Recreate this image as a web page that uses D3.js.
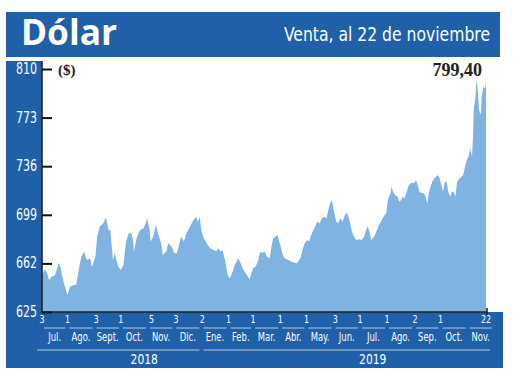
<!DOCTYPE html>
<html><head><meta charset="utf-8">
<script src="https://cdn.jsdelivr.net/npm/d3@7"></script>
<style>body{margin:0;background:#fff}</style>
</head><body><svg id="c" width="520" height="390"></svg>
<script>
const title = "Dólar";
const subtitle = "Venta, al 22 de noviembre";
const unitLabel = "($)";
const lastLabel = "799,40";
const startDate = "2018-07-03";
const endDate = "2019-11-22";
// days since 2018-07-03 of each sampled quote
const dayOffsets = [0,3,6,8,11,15,19,21,24,29,
32,36,39,43,45,48,51,55,57,61,
63,66,70,73,76,78,81,83,87,90,
93,96,99,102,104,105,108,112,116,119,
120,123,124,127,130,133,136,138,142,144,
148,151,154,157,159,162,165,169,173,176,
178,180,182,184,188,192,196,199,201,204,
206,209,212,214,217,220,224,227,230,234,
237,241,244,247,249,251,254,257,260,262,
264,267,269,272,275,277,281,285,289,291,
295,298,300,303,305,307,309,312,314,317,
319,322,325,327,329,331,333,336,338,341,
343,346,348,350,352,354,356,359,362,365,
368,370,372,374,376,378,381,384,387,390,
393,395,398,399,401,403,406,408,410,412,
414,417,419,422,425,427,429,431,434,436,
438,440,442,445,447,450,452,454,456,458,
460,462,464,466,468,470,472,474,477,479,
481,483,485,487,489,491,492,493,495,496,
498,499,501,502,504,506,507];
const values = [653,657.5,654.5,649.4,651.9,653.2,662.5,659.6,649.4,638,
644.3,645.6,645.6,660.8,667.1,671,664.6,665.9,659,667.1,
682.4,690,692.5,697.1,687.4,687.4,664.6,669.7,659.6,657,
660.8,678.6,685,685,679.8,671,681.1,687.4,688.7,693.8,
696.3,687.4,678.6,682.4,691.2,683.6,677.3,668.4,671,677.3,
674.8,669.7,669.7,677.3,682.4,678.6,684.9,690,695,697.6,
693.8,697.6,687.4,682.4,677.3,673.5,672.2,671,673.5,671,
672.2,664.6,653.2,650.6,654.5,660.8,665.9,662,657,653.2,
649.9,658.3,659.6,664.6,671,669.7,671,667.1,665.9,674.8,
681.1,682.4,683.6,676,668.4,665.9,664.6,663.3,662.5,662,
665.9,673.5,677.3,679.8,678.6,683,686.1,690,693.8,692.5,
695.6,697.6,696.3,702.7,707.8,710.3,702.7,693.8,692.5,696.3,
693.8,698.9,700.6,697.6,692.5,686.1,682.4,679.8,680.3,679.8,
682.4,687.4,690,686.1,679.8,681.1,684.9,690,693.8,697.6,
700.1,710.3,715.4,720.4,716.6,714.1,712.8,709,710.3,712.8,
711.6,717.9,721.7,723.4,723,725.5,721.7,716.6,715.4,715.4,
712.8,707.8,716.6,723,726,728,729.3,726.8,721.7,716.6,
724.2,724.2,716.6,712.8,716.6,716.6,712.8,724.2,726.8,728,
729.3,735.6,740.7,743.2,749.6,743.2,756,778.8,788.9,802,
791.5,778.8,775,788.9,796.5,795.3,799.4];
const tickDates = ["2018-07-03","2018-08-01","2018-09-03","2018-10-01","2018-11-05","2018-12-03",
"2019-01-02","2019-02-01","2019-03-01","2019-04-01","2019-05-01","2019-06-03","2019-07-01",
"2019-08-01","2019-09-02","2019-10-01","2019-11-22"];
const monthNames = ["Jul.","Ago.","Sept.","Oct.","Nov.","Dic.","Ene.","Feb.","Mar.","Abr.","May.","Jun.","Jul.","Ago.","Sep.","Oct.","Nov."];
const years = ["2018","2019"];
const yTicks = [625,662,699,736,773,810];

const blue = "#1f60a8", fill = "#7fb4e2", lineC = "#b3cbe8";
const narrow = "'Liberation Sans Narrow','DejaVu Sans Condensed','Open Sans',sans-serif";
const parse = d3.utcParse("%Y-%m-%d");
const t0 = parse(startDate), t1 = parse(endDate);
const L = 42, R = 486, T = 69, B = 312;
const x = d3.scaleUtc().domain([t0, t1]).range([L, R]);
const y = d3.scaleLinear().domain([625, 810]).range([B, T]);
const data = dayOffsets.map((o, i) => ({date: d3.utcDay.offset(t0, o), v: values[i]}));

const svg = d3.select("#c");
// narrow text helper: squeeze horizontally around anchor point
function sq(sel, fx, fy, s) {
  return sel.attr("x", 0).attr("y", 0)
    .attr("transform", (d, i) => `translate(${fx(d, i)},${fy(d, i)}) scale(${s},1)`);
}
// header
svg.append("rect").attr("x",6).attr("y",12).attr("width",494).attr("height",45).attr("fill",blue);
svg.append("text").attr("x",21).attr("y",45).attr("fill","#fff")
  .attr("font-family","'Open Sans',sans-serif").attr("font-weight",700).attr("font-size",35)
  .attr("textLength",96).attr("lengthAdjust","spacingAndGlyphs").text(title);
svg.append("text").attr("x",490).attr("y",41).attr("text-anchor","end").attr("fill","#fff")
  .attr("font-family","'DejaVu Sans Condensed',sans-serif").attr("font-size",20)
  .attr("textLength",206).attr("lengthAdjust","spacingAndGlyphs").text(subtitle);
// left strip and bottom band
svg.append("rect").attr("x",6).attr("y",61).attr("width",L-6).attr("height",B-61).attr("fill",blue);
svg.append("rect").attr("x",6).attr("y",B).attr("width",497).attr("height",56).attr("fill",blue);

// area
const area = d3.area().x(d => x(d.date)).y0(B).y1(d => y(d.v));
svg.append("path").datum(data).attr("d", area).attr("fill", fill);

// axes lines
svg.append("line").attr("x1",L).attr("x2",L).attr("y1",61).attr("y2",B+1).attr("stroke","#222").attr("stroke-width",1.6);
svg.append("line").attr("x1",L).attr("x2",R+1).attr("y1",B).attr("y2",B).attr("stroke","#222").attr("stroke-width",1.6);
svg.append("line").attr("x1",R+1).attr("x2",R+1).attr("y1",B-4).attr("y2",B+4).attr("stroke","#222").attr("stroke-width",1.6);

// y axis
const yAxis = d3.axisRight(y).tickValues(yTicks).tickSize(10).tickFormat("");
const gy = svg.append("g").attr("transform",`translate(${L},0)`).call(yAxis);
gy.select(".domain").remove();
gy.selectAll(".tick line").attr("stroke","#111").attr("stroke-width",2);
sq(svg.selectAll(".ylab").data(yTicks).join("text").attr("class","ylab"), () => 37, d => y(d) + 5, 0.82)
  .attr("text-anchor","end")
  .attr("fill","#fff").attr("font-family",narrow).attr("font-size",15).text(d => d);

svg.append("text").attr("x",58).attr("y",75).attr("font-family","'Liberation Serif',serif")
  .attr("font-weight",700).attr("font-size",15).attr("fill","#222").text(unitLabel);
svg.append("text").attr("x",482).attr("y",76).attr("text-anchor","end").attr("font-family","'Liberation Serif',serif")
  .attr("font-weight",700).attr("font-size",18).attr("fill","#222").text(lastLabel);

// x axis day labels
const fmtDay = d3.utcFormat("%-d");
sq(svg.selectAll(".dlab").data(tickDates).join("text").attr("class","dlab"), d => x(parse(d)), () => 323, 0.8)
  .attr("text-anchor","middle")
  .attr("fill","#fff").attr("font-family",narrow).attr("font-size",11).text(d => fmtDay(parse(d)));

// month segments & labels
const months = monthNames.map((m, i) => {
  const s = d3.utcMonth.offset(d3.utcMonth.floor(t0), i);
  const e = d3.utcMonth.offset(s, 1);
  return {name: m, x0: Math.max(x(s), L), x1: x(e)};
});
svg.selectAll(".mseg").data(months).join("line").attr("class","mseg")
  .attr("x1",d => d.x0 + 2).attr("x2",d => d.x1 - 2).attr("y1",328).attr("y2",328)
  .attr("stroke",lineC).attr("stroke-width",1);
sq(svg.selectAll(".mlab").data(months).join("text").attr("class","mlab"), d => (d.x0 + d.x1) / 2, () => 341, 0.78)
  .attr("text-anchor","middle")
  .attr("fill","#fff").attr("font-family",narrow).attr("font-size",12).text(d => d.name);

// years
const jan = x(parse("2019-01-01"));
const yrs = [{name: years[0], x0: 37, x1: jan - 2}, {name: years[1], x0: jan + 2, x1: 490}];
svg.selectAll(".yseg").data(yrs).join("line").attr("class","yseg")
  .attr("x1",d => d.x0).attr("x2",d => d.x1).attr("y1",350).attr("y2",350)
  .attr("stroke",lineC).attr("stroke-width",1);
sq(svg.selectAll(".ylab2").data(yrs).join("text").attr("class","ylab2"), d => (d.x0 + d.x1) / 2 + 26, () => 364, 0.85)
  .attr("text-anchor","middle")
  .attr("fill","#fff").attr("font-family",narrow).attr("font-size",14).text(d => d.name);
</script></body></html>
